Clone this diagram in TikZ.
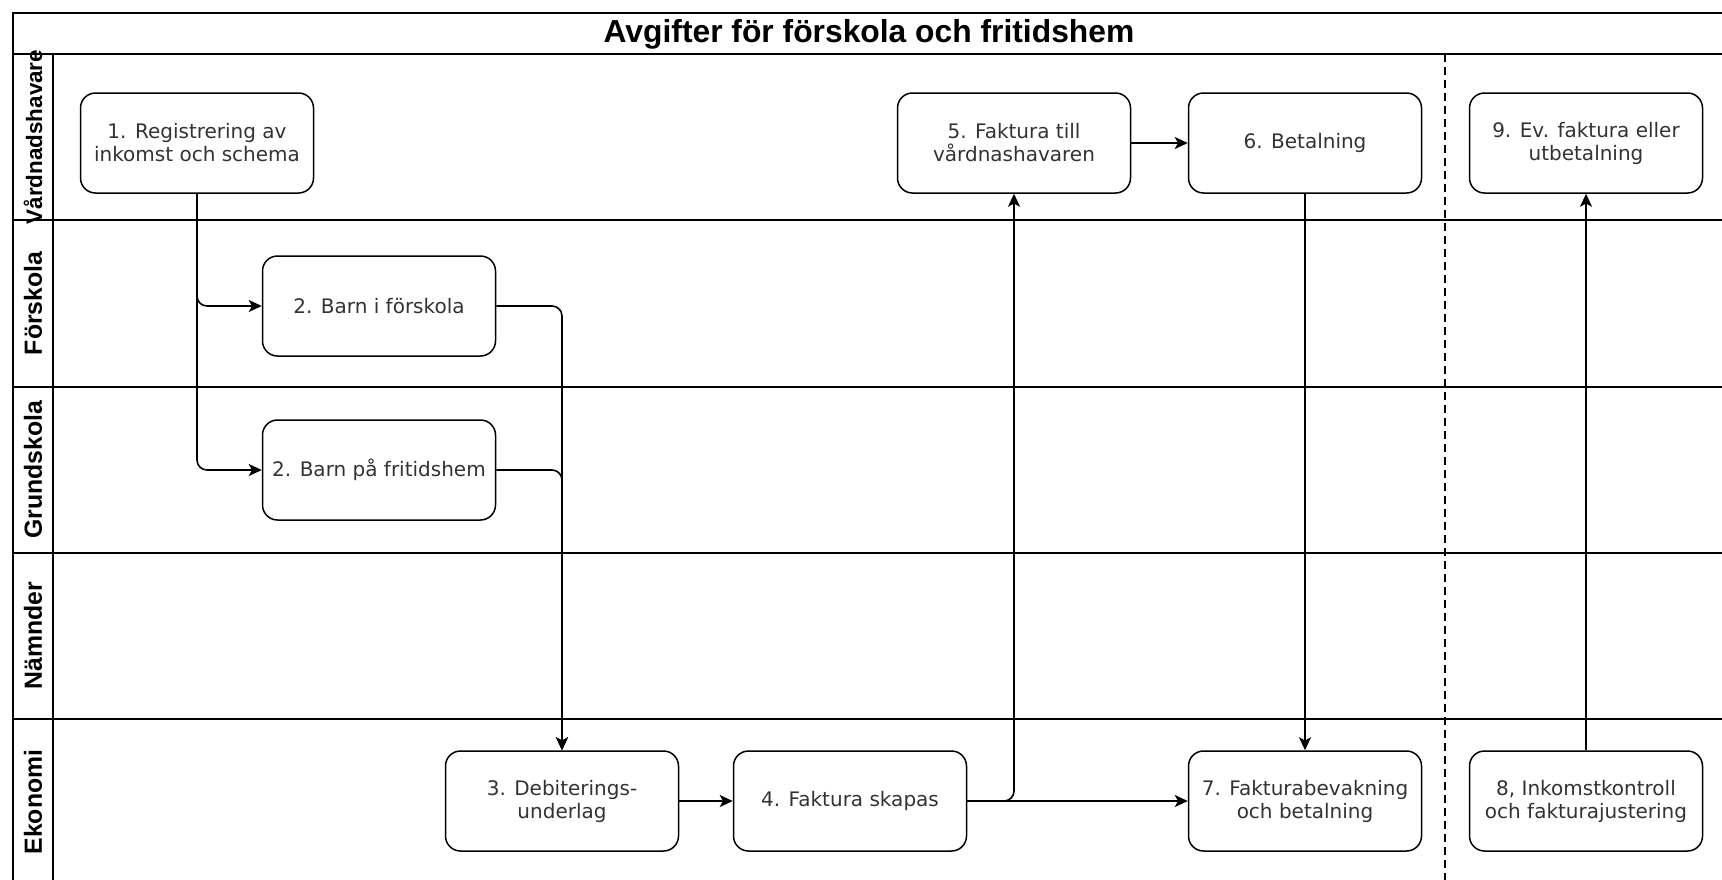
\documentclass[tikz,border=0pt]{standalone}
\usepackage{fontspec}
\setmainfont{DejaVu Sans}
\newfontfamily\helv{Liberation Sans}
\usetikzlibrary{arrows.meta}
\definecolor{txt}{HTML}{333333}
\begin{document}
\begin{tikzpicture}[x=0.5pt,y=-0.5pt,
  lane/.style={line width=1pt},
  stepbox/.style={draw,fill=white,rounded corners=7.5pt,line width=0.75pt,minimum width=116.5pt,minimum height=50pt,align=center,font=\fontsize{10}{11.5}\selectfont,text=txt,inner sep=1pt},
  lanelabel/.style={rotate=90,font=\helv\bfseries\fontsize{12.4}{14}\selectfont,inner sep=0pt},
  flow/.style={line width=0.8pt,rounded corners=5pt,-{Stealth[length=6.5pt,width=6pt,inset=1.6pt]}},
  titletext/.style={font=\helv\bfseries\fontsize{15.9}{18}\selectfont}
]
\useasboundingbox (0,0) rectangle (1722,879);
\clip (0,0) rectangle (1722,879);
% pool and lanes
\draw[lane] (12.7,13.3) rectangle (1760,900);
\draw[lane] (12.7,54) -- (1760,54);
\foreach \yy in {220.25,386.5,552.75,719} {\draw[lane] (12.7,\yy) -- (1760,\yy);}
\draw[lane] (53,54) -- (53,900);
\draw[line width=0.75pt,dash pattern=on 4pt off 2.5pt] (1445,54) -- (1445,900);
% title and lane labels
\node[titletext] (title) at (869,34) {Avgifter för förskola och fritidshem};
\node[lanelabel,font=\helv\bfseries\fontsize{11.2}{13}\selectfont] (l1) at (33,137) {Vårdnadshavare};
\node[lanelabel] (l2) at (33,303.4) {Förskola};
\node[lanelabel] (l3) at (33,469.6) {Grundskola};
\node[lanelabel] (l4) at (33,635.9) {Nämnder};
\node[lanelabel] (l5) at (33,802) {Ekonomi};
% steps
\node[stepbox] (b1) at (197,143) {1. Registrering av\\inkomst och schema};
\node[stepbox] (b2a) at (379,306) {2. Barn i förskola};
\node[stepbox] (b2b) at (379,470) {2. Barn på fritidshem};
\node[stepbox] (b3) at (562,801) {3. Debiterings-\\underlag};
\node[stepbox] (b4) at (850,801) {4. Faktura skapas};
\node[stepbox] (b5) at (1014,143) {5. Faktura till\\vårdnashavaren};
\node[stepbox] (b6) at (1305,143) {6. Betalning};
\node[stepbox] (b7) at (1305,801) {7. Fakturabevakning\\och betalning};
\node[stepbox] (b8) at (1586,801) {8, Inkomstkontroll\\och fakturajustering};
\node[stepbox] (b9) at (1586,143) {9. Ev. faktura eller\\utbetalning};
% flows
\draw[flow] (b1.south) |- (b2a.west);
\draw[flow] (b1.south) |- (b2b.west);
\draw[flow] (b2a.east) -| (b3.north);
\draw[flow] (b2b.east) -| (b3.north);
\draw[flow] (b3) -- (b4);
\draw[flow] (b4.east) -| (b5.south);
\draw[flow] (b4.east) -- (b7.west);
\draw[flow] (b5) -- (b6);
\draw[flow] (b6) -- (b7);
\draw[flow] (b8) -- (b9);
\end{tikzpicture}
\end{document}
